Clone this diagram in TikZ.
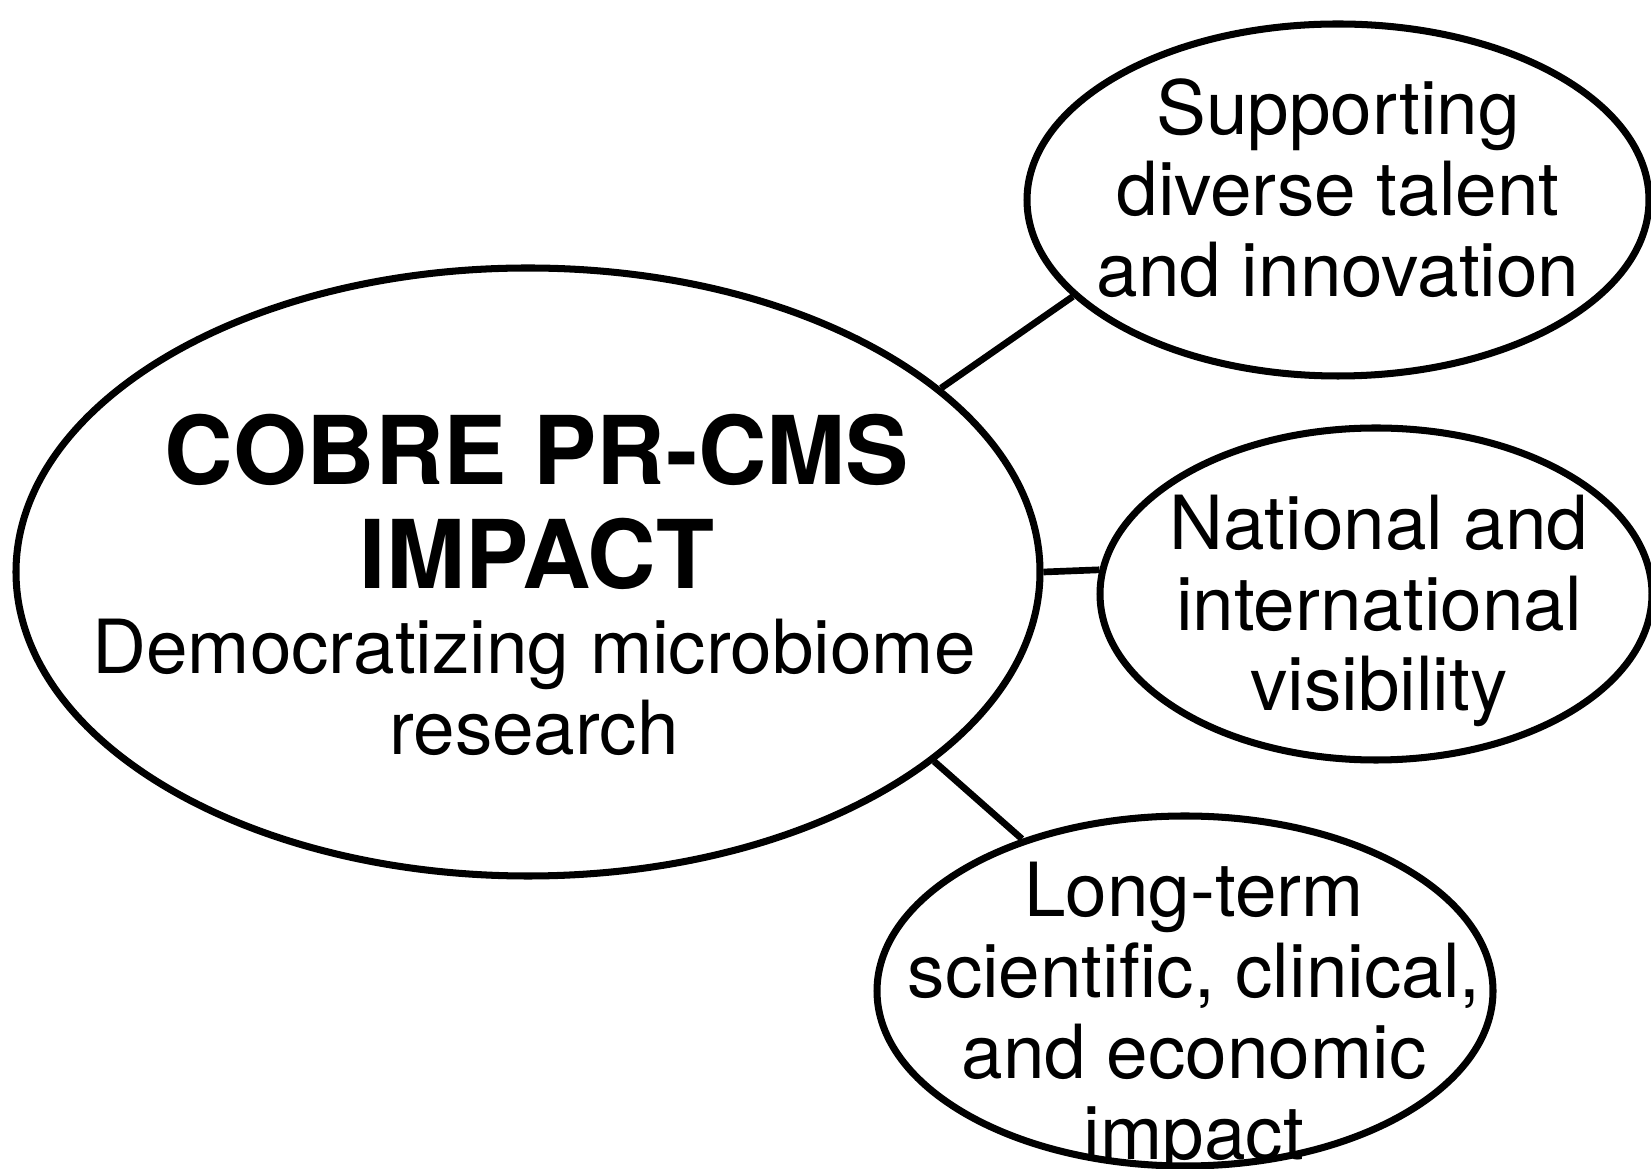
\documentclass[tikz,border=0pt]{standalone}
\usepackage{fontspec}
\setmainfont{TeX Gyre Heros}
\usetikzlibrary{shapes.geometric}

\begin{document}
\begin{tikzpicture}[
		bubble/.style={draw, ellipse, line width=4pt, inner sep=0pt},
		link/.style={line width=3.8pt},
		txt/.style={font=\fontsize{42.5}{46}\selectfont, align=center, inner sep=0pt},
		headtxt/.style={font=\fontsize{54}{59}\selectfont\bfseries, align=center, inner sep=0pt}
	]
		\path[use as bounding box, fill=white] (0, 0) rectangle (33.02, 23.38);

		\node[bubble, minimum width=20.48cm, minimum height=12.16cm] (main) at (10.56, 11.94) {};
		\node[bubble, minimum width=12.44cm, minimum height=7.04cm] (talent) at (26.76, 19.38) {};
		\node[bubble, minimum width=11.04cm, minimum height=6.64cm] (vis) at (27.52, 11.5) {};
		\node[bubble, minimum width=12.32cm, minimum height=7cm] (impact) at (23.7, 3.56) {};

		\node[headtxt] (title) at (10.74, 13.34) {COBRE PR-CMS\\IMPACT};
		\node[txt] (subtitle) at (10.68, 9.64) {Democratizing microbiome\\research};
		\node[txt] (talenttext) at (26.76, 19.61) {Supporting\\diverse talent\\and innovation};
		\node[txt] (vistext) at (27.58, 11.16) {National and\\international\\visibility};
		\node[txt] (impacttext) at (23.88, 3.0) {Long-term\\scientific, clinical,\\and economic\\impact};

		\draw[link] (main.24) -- (talent.200);
		\draw[link] (main.0) -- (vis.175);
		\draw[link] (main.-25) -- (impact.137);
	\end{tikzpicture}
\end{document}
